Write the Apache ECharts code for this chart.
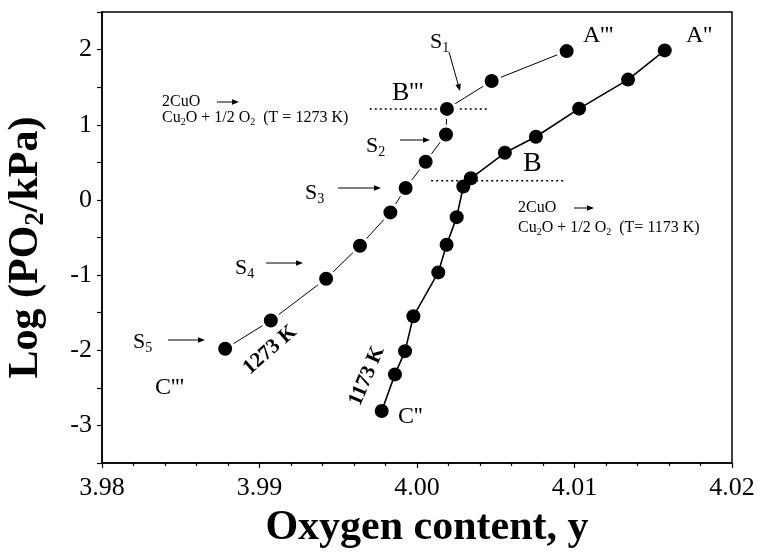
<!DOCTYPE html>
<html>
<head>
<meta charset="utf-8">
<script src="https://cdn.jsdelivr.net/npm/echarts@6/dist/echarts.min.js"></script>
<style>
  html, body { margin: 0; padding: 0; background: #fff; }
  #main { width: 761px; height: 555px; }
</style>
</head>
<body>
<div id="main"></div>
<script>
// 1273 K branch, C''' -> A'''
var x1273 = [3.98782, 3.99072, 3.99423, 3.99638, 3.99831, 3.99928, 4.00055, 4.00184, 4.00190, 4.00474, 4.00950];
var y1273 = [-1.98, -1.605, -1.048, -0.61, -0.166, 0.159, 0.508, 0.871, 1.211, 1.582, 1.98];

// 1173 K branch, C'' -> A''
var x1173 = [3.99776, 3.99860, 3.99924, 3.99977, 4.00135, 4.00188, 4.00252, 4.00294, 4.00342, 4.00558, 4.00755, 4.01029, 4.01340, 4.01573];
var y1173 = [-2.808, -2.321, -2.012, -1.548, -0.964, -0.597, -0.229, 0.179, 0.288, 0.627, 0.840, 1.214, 1.601, 1.989];

// dotted guide lines at B''' and B
var guideB3X = [3.9970, 4.0046];
var guideB3Y = 1.21;
var guideBX = [4.0009, 4.0093];
var guideBY = 0.255;

var serif = 'Liberation Serif';

function pairs (xs, ys) {
  return xs.map(function (x, i) { return [x, ys[i]]; });
}

function txt (x, y, text, size) {
  return {
    type: 'text', x: x, y: y, z: 100,
    style: {
      text: text, fill: '#000', fontFamily: serif, fontSize: size,
      align: 'left', verticalAlign: 'middle',
      textAlign: 'left', textVerticalAlign: 'middle',
      rich: {
        m: { fontFamily: serif, fontSize: size, fill: '#000' },
        s: { fontFamily: serif, fontSize: Math.round(size * 0.64), fill: '#000', verticalAlign: 'top', padding: [Math.round(size * 0.55), 0, 0, 0] }
      }
    }
  };
}

function arrow (x1, y1, x2, y2) {
  var a = Math.atan2(y2 - y1, x2 - x1), h = 7, w = 2.8;
  var c = Math.cos(a), s = Math.sin(a);
  return [
    { type: 'line', z: 100, shape: { x1: x1, y1: y1, x2: x2 - c * 4, y2: y2 - s * 4 }, style: { stroke: '#000', lineWidth: 1 } },
    { type: 'polygon', z: 100, shape: { points: [[x2, y2], [x2 - h * c + w * s, y2 - h * s - w * c], [x2 - h * c - w * s, y2 - h * s + w * c]] }, style: { fill: '#000' } }
  ];
}

var myChart = echarts.init(document.getElementById('main'));

var graphics = [
  txt(583, 36, "A'''", 24),
  txt(686, 36, "A''", 24),
  txt(430, 42, '{m|S}{s|1}', 22),
  txt(392, 93, "B'''", 26),
  txt(162, 102, '2CuO', 16),
  txt(162, 118, '{m|Cu}{s|2}{m|O + 1/2 O}{s|2}{m|  (T = 1273 K)}', 16),
  txt(366, 146, '{m|S}{s|2}', 22),
  txt(305, 193, '{m|S}{s|3}', 22),
  txt(235, 268, '{m|S}{s|4}', 22),
  txt(133, 342, '{m|S}{s|5}', 22),
  txt(155, 388, "C'''", 24),
  txt(398, 417, "C''", 24),
  txt(523, 164, 'B', 28),
  txt(518, 208, '2CuO', 16),
  txt(518, 228, '{m|Cu}{s|2}{m|O + 1/2 O}{s|2}{m|  (T= 1173 K)}', 16),
  {
    type: 'text', x: 270, y: 350, rotation: 0.72, z: 100,
    style: { text: '1273 K', fill: '#000', fontFamily: serif, fontSize: 21, fontWeight: 'bold',
      align: 'center', verticalAlign: 'middle', textAlign: 'center', textVerticalAlign: 'middle' }
  },
  {
    type: 'text', x: 367, y: 376, rotation: 1.17, z: 100,
    style: { text: '1173 K', fill: '#000', fontFamily: serif, fontSize: 21, fontWeight: 'bold',
      align: 'center', verticalAlign: 'middle', textAlign: 'center', textVerticalAlign: 'middle' }
  }
];
graphics = graphics
  .concat(arrow(449, 52, 460, 91))
  .concat(arrow(400, 140, 430, 140))
  .concat(arrow(338, 188, 381, 188))
  .concat(arrow(266, 263, 303, 263))
  .concat(arrow(168, 340, 205, 340))
  .concat(arrow(217, 102, 239, 102))
  .concat(arrow(574, 208, 594, 208));

var option = {
  backgroundColor: '#fff',
  animation: false,
  grid: {
    left: 102,
    right: 29,
    top: 12,
    bottom: 92,
    outerBoundsMode: 'none',
    show: true,
    borderColor: '#000',
    borderWidth: 1.5
  },
  xAxis: {
    type: 'value',
    min: 3.98,
    max: 4.02,
    interval: 0.01,
    name: 'Oxygen content, y',
    nameLocation: 'middle',
    nameGap: 44,
    nameTextStyle: { fontFamily: serif, fontSize: 42, fontWeight: 'bold', color: '#000', padding: [0, 0, 0, 20] },
    axisLine: { onZero: false, lineStyle: { color: '#000', width: 1.5 } },
    axisTick: { length: 5, lineStyle: { color: '#000', width: 1.2 } },
    minorTick: { show: true, splitNumber: 5, length: 3, lineStyle: { color: '#000', width: 1.2 } },
    axisLabel: {
      margin: 12, fontFamily: serif, fontSize: 26, color: '#000',
      formatter: function (v) { return v.toFixed(2); }
    },
    splitLine: { show: false }
  },
  yAxis: {
    type: 'value',
    min: -3.5,
    max: 2.5,
    interval: 0.5,
    name: '{m|Log (PO}{s|2}{m|/kPa)}',
    nameLocation: 'middle',
    nameGap: 52,
    nameTextStyle: {
      padding: [0, 20, 0, 0],
      rich: {
        m: { fontFamily: serif, fontSize: 42, fontWeight: 'bold', color: '#000' },
        s: { fontFamily: serif, fontSize: 27, fontWeight: 'bold', color: '#000', verticalAlign: 'top', padding: [21, 0, 0, 0] }
      }
    },
    axisLine: { onZero: false, lineStyle: { color: '#000', width: 1.5 } },
    axisTick: { length: 5, lineStyle: { color: '#000', width: 1.2 } },
    axisLabel: {
      margin: 10, fontFamily: serif, fontSize: 26, color: '#000',
      formatter: function (v) { return v % 1 === 0 ? String(v) : ''; }
    },
    splitLine: { show: false }
  },
  graphic: graphics,
  series: [
    {
      type: 'line',
      data: guideB3X.map(function (x) { return [x, guideB3Y]; }),
      symbol: 'none',
      lineStyle: { color: '#000', width: 1.5, type: [2, 3] },
      z: 1
    },
    {
      type: 'line',
      data: guideBX.map(function (x) { return [x, guideBY]; }),
      symbol: 'none',
      lineStyle: { color: '#000', width: 1.5, type: [2, 3] },
      z: 1
    },
    {
      name: '1273 K',
      type: 'line',
      data: pairs(x1273, y1273),
      symbol: 'circle',
      symbolSize: 17,
      itemStyle: { color: '#000', borderColor: '#fff', borderWidth: 3 },
      lineStyle: { color: '#000', width: 1 },
      z: 3
    },
    {
      name: '1173 K',
      type: 'line',
      data: pairs(x1173, y1173),
      symbol: 'circle',
      symbolSize: 14,
      itemStyle: { color: '#000' },
      lineStyle: { color: '#000', width: 1.6 },
      z: 3
    }
  ]
};

myChart.setOption(option);
</script>
</body>
</html>
